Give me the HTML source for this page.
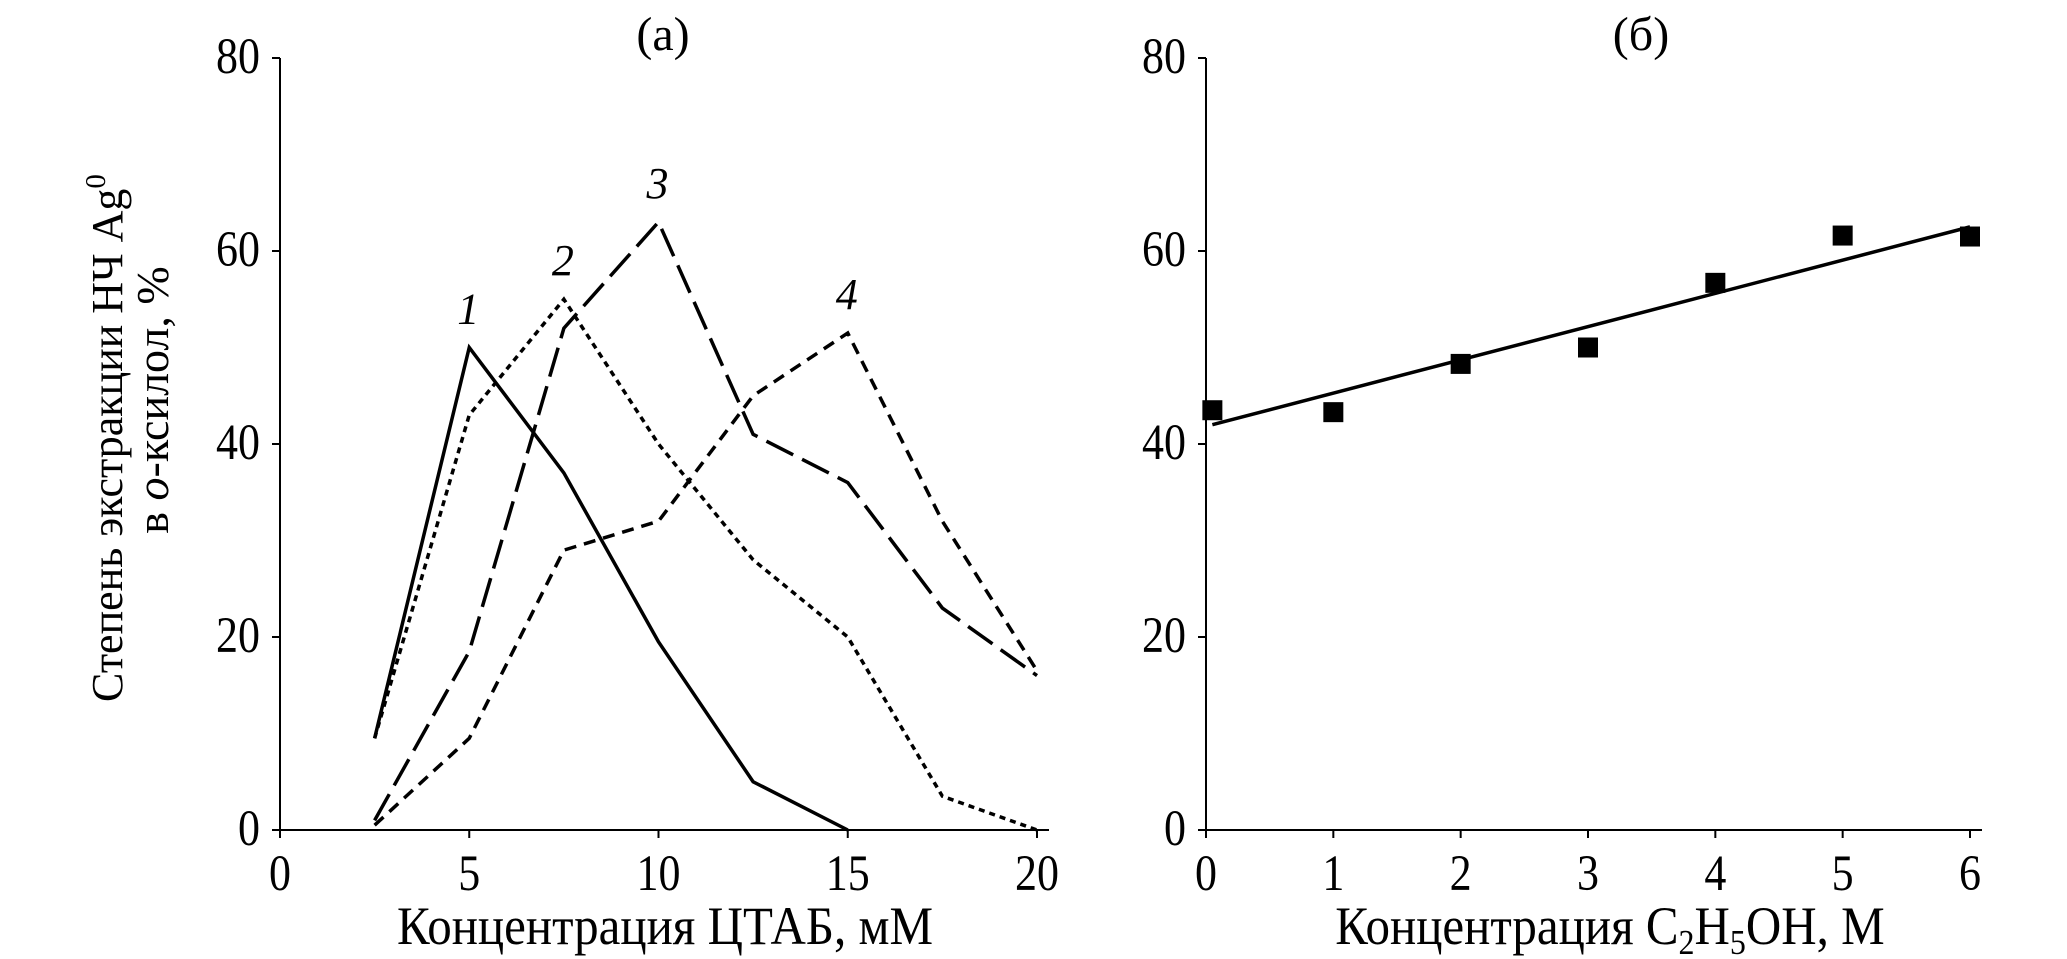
<!DOCTYPE html>
<html><head><meta charset="utf-8"><style>
body{margin:0;background:#fff}
svg{display:block;font-family:"Liberation Serif",serif}
</style></head><body>
<svg width="2067" height="959" viewBox="0 0 2067 959">
<g id="pa"></g>
<g id="pb"></g>
</svg>
<script>
const ns="http://www.w3.org/2000/svg";
const xsA=[2.5,5,7.5,10,12.5,15,17.5,20];
const s1=[9.5,50,37,19.5,5,0];
const s2=[9.5,43,55,40,28,20,3.5,0];
const s3=[1,18.5,52,63,41,36,23,16];
const s4=[0.5,9.5,29,32,45,51.5,32,16.5];
const xTicksA=[0,5,10,15,20];
const yTicks=[0,20,40,60,80];
const xsB=[0.05,1,2,3,4,5,6];
const ysB=[43.5,43.3,48.3,50,56.7,61.6,61.5];
const fitX=[0.05,6];
const fitY=[42,62.5];
const xTicksB=[0,1,2,3,4,5,6];

function el(p,t,a,txt){const e=document.createElementNS(ns,t);for(const k in a)e.setAttribute(k,a[k]);if(txt!==undefined)e.textContent=txt;p.appendChild(e);return e;}
const Y=v=>830-v*(830-58)/80;
const XA=v=>280+v*(1037-280)/20;
const XB=v=>1206+v*(1970-1206)/6;

function axes(g,X,xt,x0,xmax,name){
 let a=el(g,'line',{x1:X(x0),y1:Y(0),x2:X(x0),y2:Y(80),stroke:'#000','stroke-width':2});
 
 a=el(g,'line',{x1:X(x0),y1:Y(0),x2:X(xmax)+12,y2:Y(0),stroke:'#000','stroke-width':2});
 
 yTicks.forEach(v=>{el(g,'line',{x1:X(x0)-8,y1:Y(v),x2:X(x0),y2:Y(v),stroke:'#000','stroke-width':2});
  const t=el(g,'text',{transform:`translate(${X(x0)-20},${Y(v)+15}) scale(1,1.15)`,'text-anchor':'end','font-size':44},v);
  });
 xt.forEach(v=>{el(g,'line',{x1:X(v),y1:Y(0),x2:X(v),y2:Y(0)+8,stroke:'#000','stroke-width':2});
  const t=el(g,'text',{transform:`translate(${X(v)},${Y(0)+60}) scale(1,1.15)`,'text-anchor':'middle','font-size':44},v);
  });
}
const pa=document.getElementById('pa'),pb=document.getElementById('pb');
axes(pa,XA,xTicksA,0,20,'a');
axes(pb,XB,xTicksB,0,6,'b');

function line(g,xs,ys,dash,name){
 const pts=ys.map((v,i)=>XA(xs[i])+','+Y(v)).join(' ');
 const p=el(g,'polyline',{points:pts,fill:'none',stroke:'#000','stroke-width':3.5,'stroke-dasharray':dash});
 
}
line(pa,xsA,s1,'none','series-1');
line(pa,xsA,s2,'6 5','series-2');
line(pa,xsA,s3,'30 10','series-3');
line(pa,xsA,s4,'12 8','series-4');
[[1,5,52.5],[2,7.5,57.5],[3,10,65.5],[4,15,54]].forEach(([n,x,y])=>{
 const t=el(pa,'text',{x:XA(x)-1,y:Y(y),'text-anchor':'middle','font-size':44,'font-style':'italic'},n);
 });

const f=el(pb,'line',{x1:XB(fitX[0]),y1:Y(fitY[0]),x2:XB(fitX[1]),y2:Y(fitY[1]),stroke:'#000','stroke-width':3.5});

xsB.forEach((x,i)=>{const r=el(pb,'rect',{x:XB(x)-10,y:Y(ysB[i])-10,width:20,height:20,fill:'#000'});
 });

let t=el(pa,'text',{x:663,y:50,'text-anchor':'middle','font-size':48},'(a)');

t=el(pb,'text',{x:1641,y:50,'text-anchor':'middle','font-size':48},'(б)');

t=el(pa,'text',{transform:'translate(665,944) scale(1,1.1)','text-anchor':'middle','font-size':49},'Концентрация ЦТАБ, мМ');

t=el(pb,'text',{transform:'translate(1610,944) scale(1,1.1)','text-anchor':'middle','font-size':49});
t.innerHTML='Концентрация C<tspan font-size="32" dy="9">2</tspan><tspan dy="-9">H</tspan><tspan font-size="32" dy="9">5</tspan><tspan dy="-9">OH, М</tspan>';

t=el(pa,'text',{transform:'translate(122,438) rotate(-90)','text-anchor':'middle','font-size':44});
t.innerHTML='Степень экстракции НЧ Ag<tspan font-size="29" dy="-17">0</tspan>';

t=el(pa,'text',{transform:'translate(168,400) rotate(-90)','text-anchor':'middle','font-size':46});
t.innerHTML='в <tspan font-style="italic">о</tspan>-ксилол, %';

</script>
</body></html>
